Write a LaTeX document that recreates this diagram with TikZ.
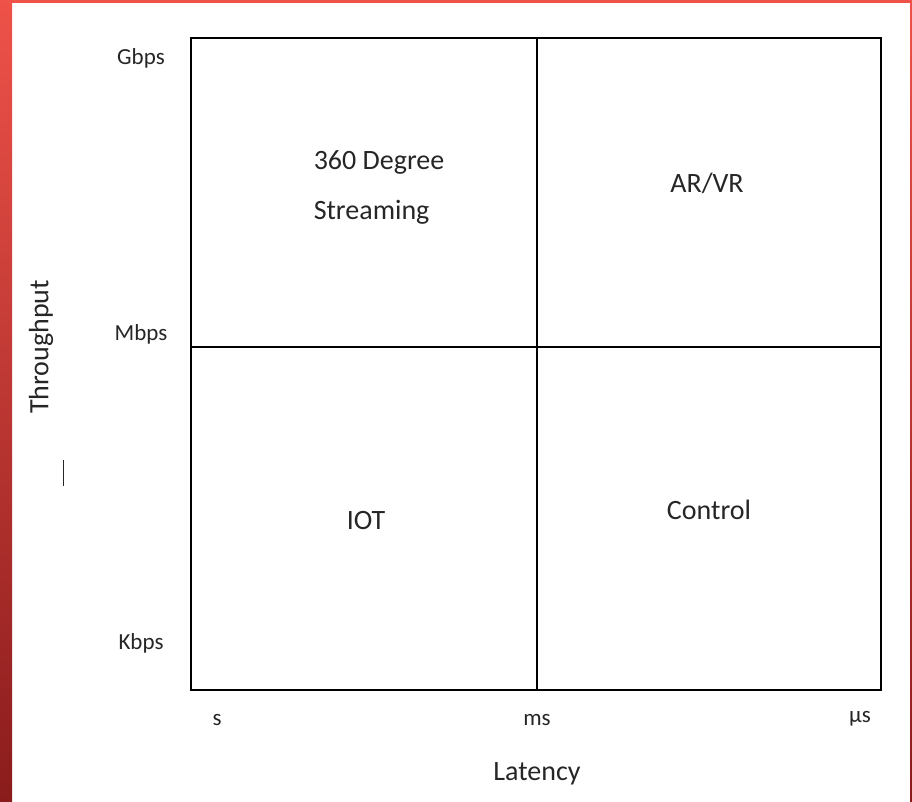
\documentclass[tikz,border=0pt]{standalone}
\usepackage{fontspec}
\setmainfont{Carlito}
\definecolor{edgetop}{HTML}{EE5249}
\definecolor{edgebot}{HTML}{8A1C1C}
\definecolor{labelgray}{HTML}{262626}
\tikzset{
  grid line/.style={line width=2.4pt, black},
  tick label/.style={text=labelgray, font=\fontsize{23}{26}\selectfont},
  quad label/.style={text=labelgray, font=\fontsize{28}{34}\selectfont, align=center},
  axis title/.style={text=labelgray, font=\fontsize{28}{34}\selectfont}
}
\begin{document}
\begin{tikzpicture}[x=1pt, y=-1pt]
  \useasboundingbox (0,0) rectangle (912,802);
  % frame of the slide
  \shade[top color=edgetop, bottom color=edgebot] (0,0) rectangle (12,802);
  \shade[top color=edgetop, bottom color=edgebot] (910,0) rectangle (912,802);
  \fill[edgetop] (0,0) rectangle (912,3);

  % quadrant box
  \coordinate (nw) at (191,38);
  \coordinate (ne) at (881,38);
  \coordinate (sw) at (191,690);
  \coordinate (se) at (881,690);
  \coordinate (ntop) at (537,38);
  \coordinate (nbot) at (537,690);
  \coordinate (wmid) at (191,347);
  \coordinate (emid) at (881,347);
  \draw[grid line] (nw) -- (ne) -- (se) -- (sw) -- cycle;
  \draw[grid line] (ntop) -- (nbot);
  \draw[grid line] (wmid) -- (emid);

  % throughput scale
  \node[tick label] (gbps) at (141,58) {Gbps};
  \node[tick label] (mbps) at (141,334) {Mbps};
  \node[tick label] (kbps) at (141,643) {Kbps};

  % latency scale
  \node[tick label] (sec) at (217,720) {s};
  \node[tick label] (msec) at (537,720) {ms};
  \node[tick label] (usec) at (860,719) {µs};

  % axis titles
  \node[axis title, rotate=90] (thru) at (41,347) {Throughput};
  \node[axis title] (lat) at (537,774) {Latency};
  \coordinate (bar top) at (63,460);
  \coordinate (bar bot) at (63,486);
  \draw[line width=1pt, labelgray] (bar top) -- (bar bot);

  % quadrants
  \node[quad label, align=left] (stream) at (379,187) {360 Degree\\[16pt]Streaming};
  \node[quad label] (arvr) at (707,183) {AR/VR};
  \node[quad label] (iot) at (366,521) {IOT};
  \node[quad label] (ctrl) at (709,510) {Control};
\end{tikzpicture}
\end{document}
